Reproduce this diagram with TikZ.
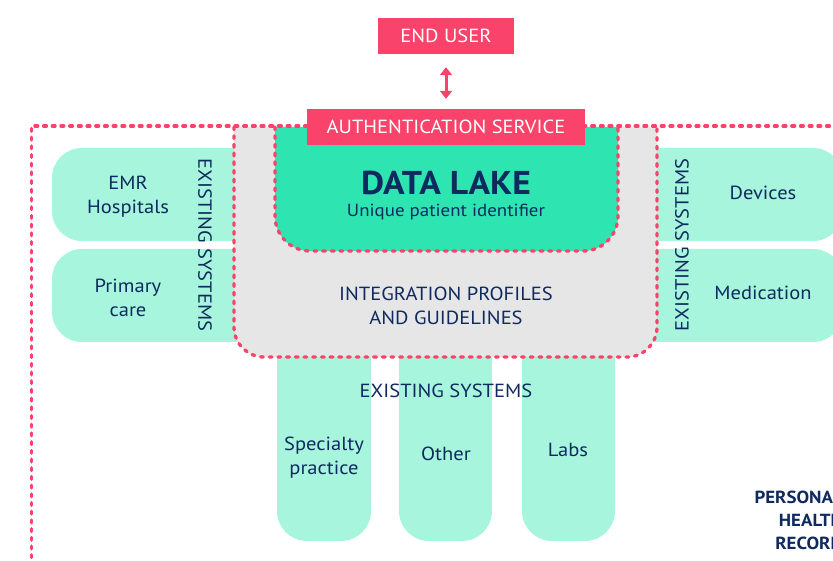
\documentclass[tikz,border=0pt]{standalone}
\usepackage{fontspec}
\setmainfont{PT Sans}[FakeStretch=1.08]
\usetikzlibrary{arrows.meta}
\definecolor{accent}{HTML}{F9436A}
\definecolor{lake}{HTML}{2EE5B1}
\definecolor{mint}{HTML}{A7F5DC}
\definecolor{panel}{HTML}{E6E6E6}
\definecolor{ink}{HTML}{0F2A5E}
\tikzset{
  dotline/.style={draw=accent, line width=3.3pt, line cap=round, dash pattern=on 2.8pt off 5.9pt},
  tile/.style={fill=mint, rounded corners=30pt},
  txt/.style={text=ink, font=\fontsize{19}{24}\selectfont, align=center, inner sep=0pt},
  banner/.style={fill=accent, text=white, font=\fontsize{19}{22}\selectfont, inner sep=0pt, minimum height=36pt},
}
\begin{document}
\begin{tikzpicture}[x=1pt,y=-1pt]
\useasboundingbox (0,0) rectangle (833,561);
\clip (0,0) rectangle (833,561);

% existing systems, left
\fill[tile] (52,148) rectangle (300,241);
\fill[tile] (52,249) rectangle (300,342);
% existing systems, right
\fill[tile] (600,148) rectangle (843,241);
\fill[tile] (600,249) rectangle (843,342);
% existing systems, bottom
\fill[tile] (277,300) rectangle (371,541);
\fill[tile] (399,300) rectangle (492,541);
\fill[tile] (522,300) rectangle (615,541);

% integration panel
\path[fill=panel, dotline, rounded corners=30pt] (234,127) -- (234,357) -- (657,357) -- (657,127);
% data lake
\path[fill=lake, dotline, rounded corners=35pt] (275,127) -- (275,251) -- (618,251) -- (618,127);

% personal health record boundary
\draw[dotline] (31.5,575) -- (31.5,126) -- (850,126);

% banners and access arrow
\node[banner, minimum width=136pt] (enduser) at (446,36) {END USER};
\node[banner, minimum width=278pt] (auth) at (446,127) {AUTHENTICATION SERVICE};
\draw[accent, line width=3pt, {Triangle[width=12pt,length=8pt]}-{Triangle[width=12pt,length=8pt]},
      shorten <=13pt, shorten >=10pt] (enduser.south) -- (auth.north);

% data lake text
\node[txt, font=\fontsize{33}{36}\selectfont\bfseries] (lake) at (446,183) {DATA LAKE};
\node[txt, font=\fontsize{17.5}{20}\selectfont] (uid) at (446,212) {Unique patient identifier};
\node[txt] (integ) at (446,306) {INTEGRATION PROFILES\\AND GUIDELINES};

% tile labels
\node[txt] (emr) at (128,197) {EMR\\Hospitals};
\node[txt] (primary) at (128,298) {Primary\\care};
\node[txt] (devices) at (763,193) {Devices};
\node[txt] (medication) at (763,293) {Medication};
\node[txt] (specialty) at (324,458) {Specialty\\practice};
\node[txt] (other) at (446,454) {Other};
\node[txt] (labs) at (568,450) {Labs};

% group captions
\node[txt, rotate=-90] (exleft) at (205,245) {EXISTING SYSTEMS};
\node[txt, rotate=90] (exright) at (682,245) {EXISTING SYSTEMS};
\node[txt] (exbottom) at (446,391) {EXISTING SYSTEMS};

% boundary caption
\node[txt, anchor=east, align=right, font=\fontsize{17.5}{23}\selectfont\bfseries] (phr) at (843,520) {PERSONAL\\HEALTH\\RECORD};
\end{tikzpicture}
\end{document}
